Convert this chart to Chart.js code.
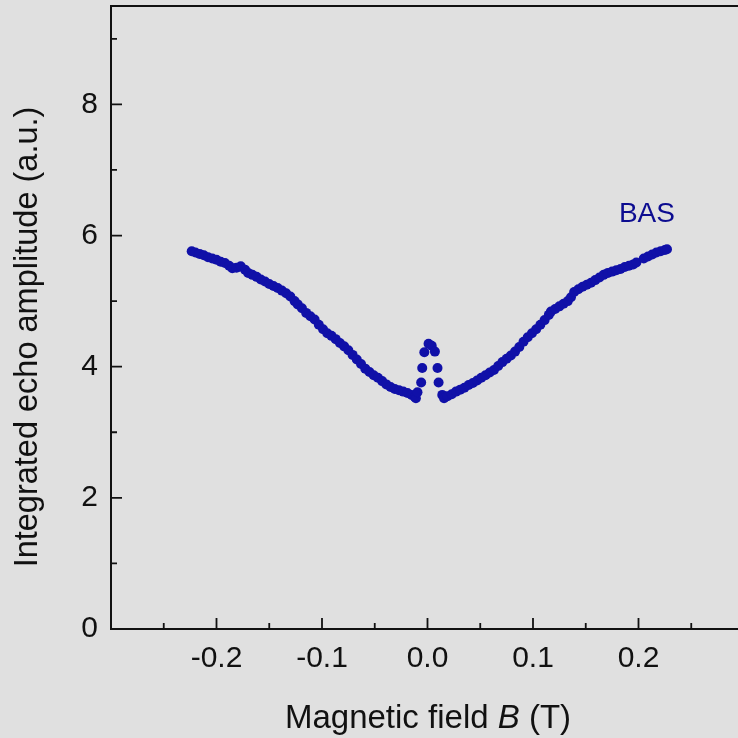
<!DOCTYPE html>
<html><head><meta charset="utf-8">
<script src="https://cdn.jsdelivr.net/npm/chart.js@4.4.0/dist/chart.umd.min.js"></script>
<style>html,body{margin:0;padding:0;background:#e0e0e0;overflow:hidden;width:738px;height:738px}canvas{display:block}</style>
</head><body><canvas id="c" width="760" height="738"></canvas>
<script>
// Magnetic field B (T)
const fieldB = [
 -0.2235,-0.2200,-0.2160,-0.2120,-0.2080,-0.2040,-0.2000,-0.1960,-0.1920,-0.1880,
 -0.1850,-0.1810,-0.1770,-0.1730,-0.1700,-0.1660,-0.1620,-0.1580,-0.1540,-0.1500,
 -0.1460,-0.1420,-0.1380,-0.1340,-0.1300,-0.1260,-0.1230,-0.1190,-0.1150,-0.1110,
 -0.1070,-0.1030,-0.0990,-0.0950,-0.0910,-0.0870,-0.0830,-0.0790,-0.0750,-0.0710,
 -0.0670,-0.0630,-0.0590,-0.0550,-0.0510,-0.0470,-0.0430,-0.0390,-0.0350,-0.0310,
 -0.0270,-0.0230,-0.0190,-0.0150,-0.0120,-0.0110,
 -0.0095,-0.0060,-0.0050,-0.0030,0.0010,0.0040,0.0070,0.0095,0.0105,0.0140,0.0157,
 0.0190,0.0230,0.0270,0.0310,0.0350,0.0390,0.0430,0.0470,0.0510,0.0550,
 0.0590,0.0630,0.0670,0.0710,0.0750,0.0790,0.0830,0.0870,0.0910,0.0950,
 0.0990,0.1030,0.1070,0.1110,0.1150,0.1170,0.1210,0.1250,0.1290,0.1330,
 0.1360,0.1390,0.1430,0.1470,0.1510,0.1550,0.1590,0.1630,0.1670,0.1710,
 0.1750,0.1790,0.1830,0.1870,0.1910,0.1950,0.1980,0.2050,0.2090,0.2130,
 0.2170,0.2210,0.2250,0.2270
];
// Integrated echo amplitude (a.u.)
const echoAmp = [
 5.76,5.74,5.72,5.70,5.67,5.65,5.63,5.60,5.58,5.54,
 5.50,5.51,5.53,5.48,5.43,5.40,5.37,5.33,5.30,5.26,
 5.23,5.20,5.16,5.12,5.07,5.00,4.95,4.89,4.82,4.77,
 4.72,4.64,4.57,4.51,4.47,4.42,4.36,4.31,4.25,4.18,
 4.11,4.04,3.97,3.92,3.87,3.83,3.78,3.73,3.69,3.66,
 3.64,3.62,3.60,3.57,3.54,3.52,
 3.61,3.76,3.98,4.22,4.35,4.32,4.23,3.98,3.76,3.57,3.52,
 3.55,3.58,3.62,3.65,3.68,3.72,3.75,3.79,3.83,3.87,
 3.91,3.95,4.01,4.07,4.12,4.17,4.23,4.30,4.38,4.45,
 4.51,4.57,4.64,4.71,4.79,4.84,4.88,4.92,4.96,5.00,
 5.06,5.14,5.18,5.22,5.25,5.28,5.32,5.36,5.40,5.43,
 5.45,5.47,5.49,5.52,5.54,5.56,5.59,5.65,5.68,5.71,
 5.74,5.76,5.78,5.79
];
const xTickLabels = [-0.2, -0.1, 0.0, 0.1, 0.2];
const xMinorTicks = [-0.25, -0.15, -0.05, 0.05, 0.15, 0.25];
const xMajorTicks = [-0.2, -0.1, 0.0, 0.1, 0.2, 0.3];
const yTickLabels = [0, 2, 4, 6, 8];
const yMinorTicks = [1, 3, 5, 7, 9];
const seriesName = 'BAS';
const seriesLabelAt = [0.208, 6.32];
const xTitle = ['Magnetic field ', 'B', ' (T)'];
const yTitle = 'Integrated echo amplitude (a.u.)';

const FONT = "'Liberation Sans', Arial, sans-serif";
const INK = '#111111';
const DOT = '#1010a8';

const points = fieldB.map((b, i) => ({x: b, y: echoAmp[i]}));

const decor = {
  id: 'decor',
  beforeDraw(chart) {
    const c = chart.ctx;
    c.save(); c.fillStyle = '#e0e0e0'; c.fillRect(0, 0, chart.width, chart.height); c.restore();
  },
  afterDatasetsDraw(chart) {
    const c = chart.ctx, a = chart.chartArea, xs = chart.scales.x, ys = chart.scales.y;
    c.save();
    c.strokeStyle = INK; c.lineWidth = 2;
    c.beginPath();
    c.moveTo(a.left, a.top); c.lineTo(a.right, a.top);
    c.moveTo(a.left, a.top - 1); c.lineTo(a.left, a.bottom + 1);
    c.moveTo(a.left - 1, a.bottom); c.lineTo(a.right, a.bottom);
    c.moveTo(a.right, a.top); c.lineTo(a.right, a.bottom);
    c.stroke();
    c.lineWidth = 1.8;
    c.beginPath();
    xMajorTicks.forEach(v => { const p = xs.getPixelForValue(v); c.moveTo(p, a.bottom); c.lineTo(p, a.bottom - 11); });
    xMinorTicks.forEach(v => { const p = xs.getPixelForValue(v); c.moveTo(p, a.bottom); c.lineTo(p, a.bottom - 6); });
    yTickLabels.forEach(v => { const p = ys.getPixelForValue(v); c.moveTo(a.left, p); c.lineTo(a.left + 11, p); });
    yMinorTicks.forEach(v => { const p = ys.getPixelForValue(v); c.moveTo(a.left, p); c.lineTo(a.left + 6, p); });
    c.stroke();
    // series label
    c.fillStyle = '#0c0c90';
    c.font = '28px ' + FONT;
    c.textAlign = 'center'; c.textBaseline = 'middle';
    c.fillText(seriesName, xs.getPixelForValue(seriesLabelAt[0]), ys.getPixelForValue(seriesLabelAt[1]));
    // x title
    c.fillStyle = INK;
    c.textBaseline = 'alphabetic'; c.textAlign = 'left';
    const fN = '33px ' + FONT, fI = 'italic 33px ' + FONT;
    c.font = fN; const w0 = c.measureText(xTitle[0]).width, w2 = c.measureText(xTitle[2]).width;
    c.font = fI; const w1 = c.measureText(xTitle[1]).width;
    const cx = 428;
    let x0 = cx - (w0 + w1 + w2) / 2;
    const yb = 728;
    c.font = fN; c.fillText(xTitle[0], x0, yb);
    c.font = fI; c.fillText(xTitle[1], x0 + w0, yb);
    c.font = fN; c.fillText(xTitle[2], x0 + w0 + w1, yb);
    // y title
    c.translate(37, 337); c.rotate(-Math.PI / 2);
    c.font = '32.5px ' + FONT; c.textAlign = 'center';
    c.fillText(yTitle, 0, 0);
    c.restore();
  }
};

new Chart(document.getElementById('c'), {
  type: 'scatter',
  data: { datasets: [{ label: seriesName, data: points, backgroundColor: DOT, borderWidth: 0, pointRadius: 5, pointHoverRadius: 5 }] },
  options: {
    responsive: false, animation: false, devicePixelRatio: 1,
    layout: { padding: { top: 6, right: 16, left: 0, bottom: 0 } },
    plugins: { legend: { display: false }, tooltip: { enabled: false } },
    scales: {
      x: {
        type: 'linear', min: -0.3, max: 0.3,
        grid: { display: false, drawTicks: false }, border: { display: false },
        afterBuildTicks: s => { s.ticks = xTickLabels.map(v => ({ value: v })); },
        afterFit: s => { s.height = 109; s.paddingLeft = 0; s.paddingRight = 0; },
        ticks: { padding: 12, color: INK, font: { family: FONT, size: 30 }, callback: v => Number(v).toFixed(1), maxRotation: 0, autoSkip: false }
      },
      y: {
        type: 'linear', min: 0, max: 9.5,
        grid: { display: false, drawTicks: false }, border: { display: false },
        afterBuildTicks: s => { s.ticks = yTickLabels.map(v => ({ value: v })); },
        afterFit: s => { s.width = 111; s.paddingTop = 0; s.paddingBottom = 0; },
        ticks: { padding: 13, color: INK, font: { family: FONT, size: 30 }, callback: v => String(v) }
      }
    }
  },
  plugins: [decor]
});
</script></body></html>
